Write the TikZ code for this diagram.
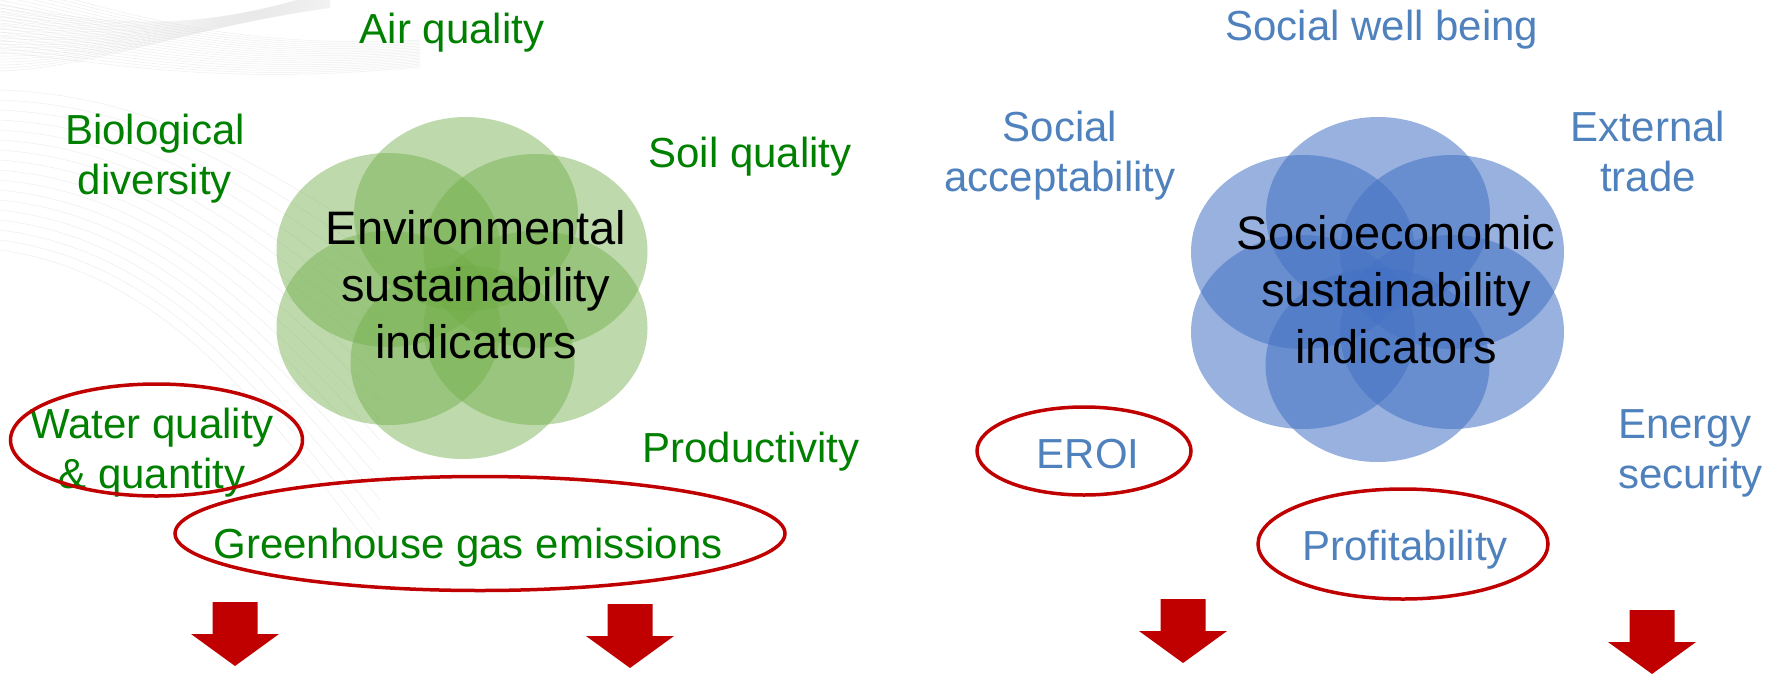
\documentclass[tikz,border=0pt]{standalone}
\usepackage{fontspec}
\setmainfont{Liberation Sans}
\definecolor{envgreen}{RGB}{112,173,71}
\definecolor{socblue}{RGB}{68,114,196}
\definecolor{labgreen}{RGB}{0,128,0}
\definecolor{labblue}{RGB}{79,129,189}
\definecolor{ringred}{RGB}{192,0,0}
\definecolor{wavegray}{RGB}{200,200,200}
\tikzset{
  petalG/.style={fill=envgreen, fill opacity=0.45, draw=none},
  petalB/.style={fill=socblue, fill opacity=0.55, draw=none},
  lbl/.style={inner sep=0pt, anchor=base, align=center, font=\fontsize{42}{50}\selectfont},
  lblG/.style={lbl, text=labgreen},
  lblB/.style={lbl, text=labblue},
  core/.style={inner sep=0pt, anchor=base, align=center, font=\fontsize{47}{57}\selectfont, text=black},
  ring/.style={draw=ringred, line width=3.5pt},
  bigarrow/.style={fill=ringred, draw=none},
  wave/.style={draw=wavegray, line width=0.5pt, draw opacity=0.3},
  downarr/.pic={\fill[bigarrow] (-22.5,0) -- (22.5,0) -- (22.5,32) -- (44,32) -- (0,64) -- (-44,32) -- (-22.5,32) -- cycle;}
}
\begin{document}
\begin{tikzpicture}[x=1pt,y=-1pt]
\useasboundingbox (0,0) rectangle (1785,675);
\fill[white] (0,0) rectangle (1785,675);
% faint background waves
\begin{scope}
\clip (0,0) rectangle (1785,675);
\foreach \k in {0,...,22} {\draw[wave] (0,{5+3*\k}) .. controls (90,{20+2.2*\k}) and (180,{40-0.5*\k}) .. (330,{-10+0.8*\k});}
\foreach \k in {0,...,18} {\draw[wave] (0,{-20+4*\k}) .. controls (120,{10+3*\k}) and (220,{50+2*\k}) .. (420,{40+1.5*\k});}
\foreach \k in {0,...,16} {\draw[wave] (0,{90+10*\k}) .. controls (150,{95+11*\k}) and (250,{160+14*\k}) .. (380,{240+20*\k});}
\end{scope}
% green flower
\fill[petalG] (466,214) ellipse [x radius=112pt, y radius=97pt];
\fill[petalG] (388.5,250) ellipse [x radius=112pt, y radius=97pt];
\fill[petalG] (535.5,251) ellipse [x radius=112pt, y radius=97pt];
\fill[petalG] (388.5,328) ellipse [x radius=112pt, y radius=97pt];
\fill[petalG] (535.5,328) ellipse [x radius=112pt, y radius=97pt];
\fill[petalG] (462.5,362) ellipse [x radius=112pt, y radius=97pt];
% blue flower
\fill[petalB] (1378,214) ellipse [x radius=112pt, y radius=97pt];
\fill[petalB] (1303,252) ellipse [x radius=112pt, y radius=97pt];
\fill[petalB] (1452,252) ellipse [x radius=112pt, y radius=97pt];
\fill[petalB] (1303,332) ellipse [x radius=112pt, y radius=97pt];
\fill[petalB] (1452,332) ellipse [x radius=112pt, y radius=97pt];
\fill[petalB] (1377.5,365) ellipse [x radius=112pt, y radius=97pt];
% centre texts (anchor = baseline of last line)
\node[core] (env) at (476,358) {Environmental\\sustainability\\indicators};
\node[core] (soc) at (1396,363) {Socioeconomic\\sustainability\\indicators};
% green labels
\node[lblG] (air) at (452,43) {Air quality};
\node[lblG] (bio) at (155,194) {Biological\\diversity};
\node[lblG] (soil) at (750,167) {Soil quality};
\node[lblG] (prod) at (751,462) {Productivity};
\node[lblG] (water) at (152,488) {Water quality\\\& quantity};
\node[lblG] (ghg) at (468,558) {Greenhouse gas emissions};
% blue labels
\node[lblB] (swb) at (1382,40) {Social well being};
\node[lblB] (sacc) at (1060,191) {Social\\acceptability};
\node[lblB] (ext) at (1648,191) {External\\trade};
\node[lblB] (eroi) at (1088,468) {EROI};
\node[lblB, align=left, anchor=base west] (ensec) at (1618,488) {Energy\\security};
\node[lblB] (prof) at (1405,560) {Profitability};
% red rings
\draw[ring] (156.5,440) ellipse [x radius=146pt, y radius=56pt];
\draw[ring] (480,533.5) ellipse [x radius=305pt, y radius=57pt];
\draw[ring] (1084,451) ellipse [x radius=107pt, y radius=44pt];
\draw[ring] (1403,544) ellipse [x radius=145pt, y radius=55pt];
% arrows
\pic at (235,602) {downarr};
\pic at (630,604) {downarr};
\pic at (1183,599) {downarr};
\pic at (1652,610) {downarr};
\end{tikzpicture}
\end{document}
